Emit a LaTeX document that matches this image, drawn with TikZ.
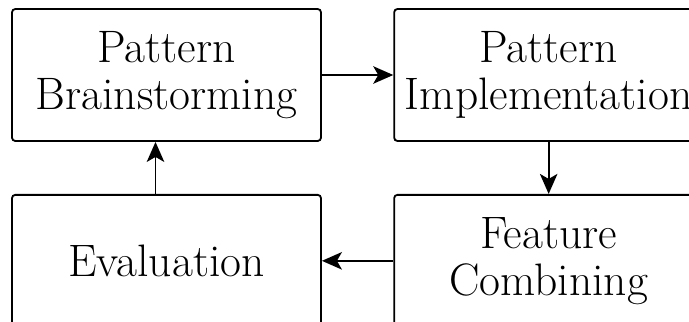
\documentclass[tikz,border=0pt]{standalone}
\usetikzlibrary{positioning,arrows.meta}

\newcommand\stagefont{\fontsize{27.3}{28.4}\selectfont}
\newcommand\stagewidth{185.4pt}
\newcommand\stageheight{79.2pt}
\tikzset{
  stage/.style={draw, line width=1.1pt, rounded corners=2pt,
    minimum width=\stagewidth, minimum height=\stageheight,
    inner sep=0pt, align=center, font=\stagefont},
  flow/.style={line width=1.1pt, -{Stealth[length=12pt,width=10.5pt,inset=3pt]}}
}

\begin{document}
\begin{tikzpicture}
    \useasboundingbox (0,0) rectangle (413.4pt,-193.2pt);
    \node[stage] (brainstorm) at (99.9pt,-45pt) {Pattern\\Brainstorming};
    \node[stage, right=42.8pt of brainstorm] (implement) {Pattern\\Implementation};
    \node[stage, below=31.2pt of brainstorm] (evaluate) {Evaluation};
    \node[stage, below=31.2pt of implement] (combine) {Feature\\Combining};
    % cycle of the stages
    \draw[flow] (brainstorm) -- (implement);
    \draw[flow] (implement) -- (combine);
    \draw[flow] (combine) -- (evaluate);
    \draw[flow] ([xshift=-6.6pt]evaluate.north) -- ([xshift=-6.6pt]brainstorm.south);
  \end{tikzpicture}
\end{document}
